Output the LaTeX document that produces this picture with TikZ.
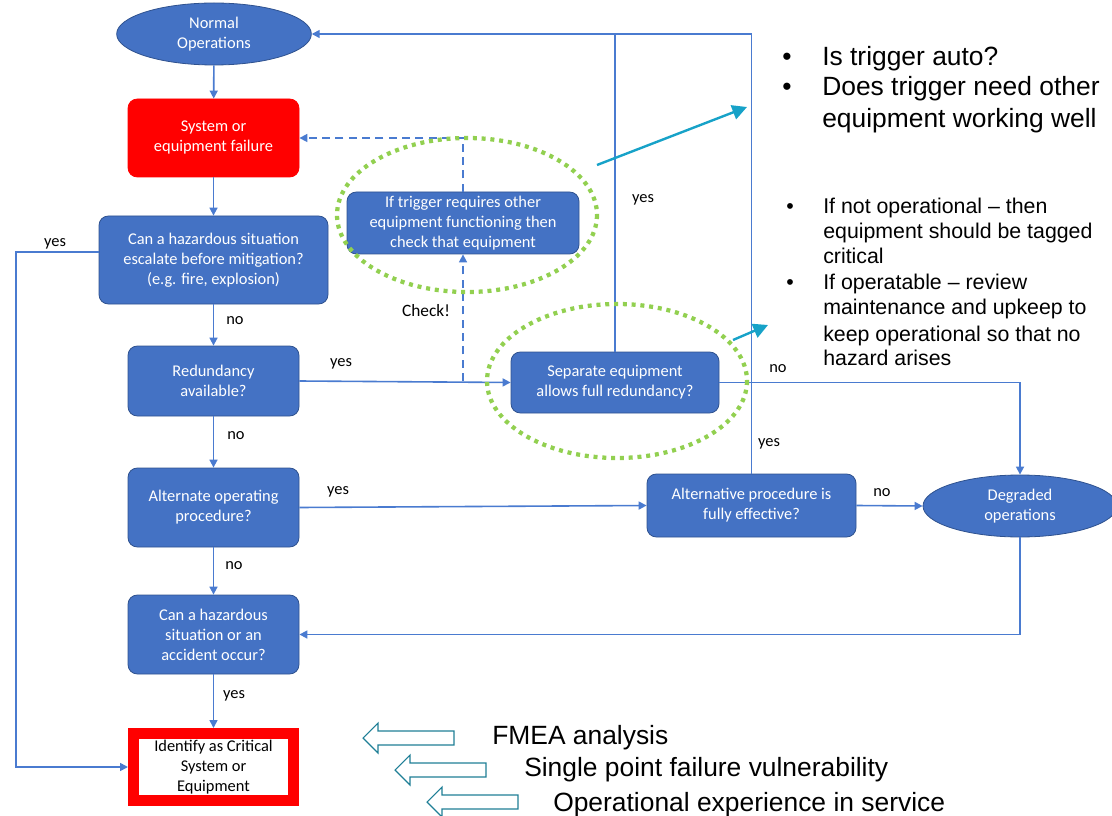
\documentclass[tikz,border=0pt]{standalone}
\usepackage{fontspec}
\setmainfont{Carlito}
\newfontfamily\arialf{Liberation Sans}
\usetikzlibrary{arrows.meta,shapes.geometric,calc}
\definecolor{cblue}{HTML}{4472C4}
\definecolor{cdark}{HTML}{2F528F}
\definecolor{cline}{HTML}{4A7BD0}
\definecolor{cgreen}{HTML}{92D050}
\definecolor{cteal}{HTML}{17A2C8}
\definecolor{chollow}{HTML}{1F7F96}
\begin{document}
\begin{tikzpicture}[x=0.75pt,y=-0.75pt,
  box/.style={rounded corners=7pt, fill=cblue, draw=cdark, line width=0.6pt, text=white, align=center, font=\fontsize{12.3}{15}\selectfont, inner sep=1pt},
  oval/.style={ellipse, fill=cblue, draw=cdark, line width=0.6pt, text=white, align=center, font=\fontsize{12.3}{15}\selectfont, inner sep=0pt},
  conn/.style={draw=cline, line width=1.2pt, -{Triangle[length=6pt,width=6pt]}},
  plain/.style={draw=cline, line width=1.2pt},
  lbl/.style={font=\fontsize{12.3}{15}\selectfont, text=black, inner sep=0pt},
  greenring/.style={draw=cgreen, line width=3.2pt, dash pattern=on 3pt off 3.6pt},
  tealarrow/.style={draw=cteal, line width=1.8pt, -{Triangle[length=11pt,width=11pt]}},
  hollow/.style={draw=chollow, line width=0.8pt, fill=white},
  bigtxt/.style={font=\arialf\fontsize{19.8}{23.6}\selectfont, anchor=base west, inner sep=0pt},
  smalltxt/.style={font=\arialf\fontsize{16}{19}\selectfont, anchor=base west, inner sep=0pt}
]
\useasboundingbox (0,0) rectangle (1112,816);

% main flow nodes
\node[oval, minimum width=146pt, minimum height=46.5pt] (normal) at (214,34) {Normal\\Operations};
\node[box, fill=red, draw=red, minimum width=128.25pt, minimum height=58.5pt] (sys) at (213.5,138) {System or\\equipment failure};
\node[box, minimum width=171.75pt, minimum height=66pt] (haz) at (213.5,260) {Can a hazardous situation\\escalate before mitigation?\\(e.g. fire, explosion)};
\node[box, minimum width=128.25pt, minimum height=52.5pt] (red) at (213.5,381) {Redundancy\\available?};
\node[box, minimum width=128.25pt, minimum height=59.25pt] (alt) at (213.5,507.5) {Alternate operating\\procedure?};
\node[box, minimum width=128.25pt, minimum height=59.25pt] (acc) at (213.5,634.5) {Can a hazardous\\situation or an\\accident occur?};
\node[draw=red, line width=8.25pt, fill=white, text=black, align=center, font=\fontsize{12.3}{15}\selectfont, minimum width=120pt, minimum height=50.25pt, inner sep=0pt] (ident) at (213.5,767) {Identify as Critical\\System or\\Equipment};

\node[box, minimum width=174pt, minimum height=46.5pt] (trig) at (463,223) {If trigger requires other\\equipment functioning then\\check that equipment};
\node[box, minimum width=156pt, minimum height=45.75pt] (sep) at (615,382.5) {Separate equipment\\allows full redundancy?};
\node[box, minimum width=156.75pt, minimum height=47.25pt] (altp) at (751.5,505.5) {Alternative procedure is\\fully effective?};
\node[oval, minimum width=145.5pt, minimum height=46.5pt] (deg) at (1020,506) {Degraded\\operations};

% connectors
\draw[conn] (normal) -- (sys);
\draw[conn] (sys) -- (haz);
\draw[conn] (haz) -- (red);
\draw[conn] (red) -- (alt);
\draw[conn] (alt) -- (acc);
\draw[conn] (acc) -- (ident);
\coordinate (hazl) at ([yshift=6pt]haz.west);
\coordinate (leftc) at (16,0);
\draw[conn] (hazl) -- (leftc |- hazl) -- (leftc |- ident.west) -- (ident.west);
\draw[conn] (red.east) -- (sep.west);
\draw[conn] (alt.east) -- (altp.west);
\draw[conn] (altp.east) -- (deg.west);
\draw[conn] (altp.north) |- (normal.east);
\draw[plain] (sep.north) -- (sep.north |- normal.east);
\draw[conn] (sep.east) -| (deg.north);
\draw[conn] (deg.south) |- (acc.east);

% dashed check path
\coordinate (dj) at (trig.south |- red.east);
\draw[conn, dashed, dash pattern=on 6pt off 4pt] (dj) -- (trig.south);
\draw[conn, dash pattern=on 6pt off 4pt] (trig.north) |- (sys.east);

% labels
\node[lbl] (y1) at (55,244) {yes};
\node[lbl] (n1) at (235,321) {no};
\node[lbl] (n2) at (236,436) {no};
\node[lbl] (n3) at (234,566) {no};
\node[lbl] (y2) at (234,696) {yes};
\node[lbl] (y3) at (341,364) {yes};
\node[lbl] (y4) at (338,492) {yes};
\node[lbl] (y5) at (643,200) {yes};
\node[lbl] (n4) at (778,369) {no};
\node[lbl] (y6) at (769,444) {yes};
\node[lbl] (n5) at (882,493) {no};
\node[lbl, font=\fontsize{13}{15}\selectfont] (chk) at (426,311) {Check!};

% green dotted rings
\draw[greenring] (467,215) ellipse [x radius=130, y radius=77];
\draw[greenring] (617,381) ellipse [x radius=130, y radius=77];

% teal pointers
\coordinate (t1a) at (597,165);
\coordinate (t1b) at (747,107);
\coordinate (t2a) at (733,340);
\coordinate (t2b) at (768,325);
\draw[tealarrow] (t1a) -- (t1b);
\draw[tealarrow] (t2a) -- (t2b);

% right notes
\node[bigtxt] (b1) at (782,66) {•};
\node[bigtxt] (s1) at (822,66) {Is trigger auto?};
\node[bigtxt] (b2) at (782,96) {•};
\node[bigtxt] (s2) at (822,96) {Does trigger need other};
\node[bigtxt] (s3) at (822,128) {equipment working well};

\node[smalltxt] (c1) at (786,214) {•};
\node[smalltxt] (d1) at (823,214) {If not operational – then};
\node[smalltxt] (d2) at (823,239) {equipment should be tagged};
\node[smalltxt] (d3) at (823,264) {critical};
\node[smalltxt] (c2) at (786,290) {•};
\node[smalltxt] (d4) at (823,290) {If operatable – review};
\node[smalltxt] (d5) at (823,315) {maintenance and upkeep to};
\node[smalltxt] (d6) at (823,341) {keep operational so that no};
\node[smalltxt] (d7) at (823,365) {hazard arises};

% bottom hollow arrows and texts
\foreach \dx/\dy in {0/0, 32/32, 64/64} {
  \draw[hollow] (363+\dx,738+\dy) -- (378+\dx,723+\dy) -- (378+\dx,731+\dy) -- (454+\dx,731+\dy) -- (454+\dx,745+\dy) -- (378+\dx,745+\dy) -- (378+\dx,753+\dy) -- cycle;
}
\node[bigtxt] (f1) at (492,744) {FMEA analysis};
\node[bigtxt] (f2) at (524,776) {Single point failure vulnerability};
\node[bigtxt] (f3) at (553,811) {Operational experience in service};
\end{tikzpicture}
\end{document}
